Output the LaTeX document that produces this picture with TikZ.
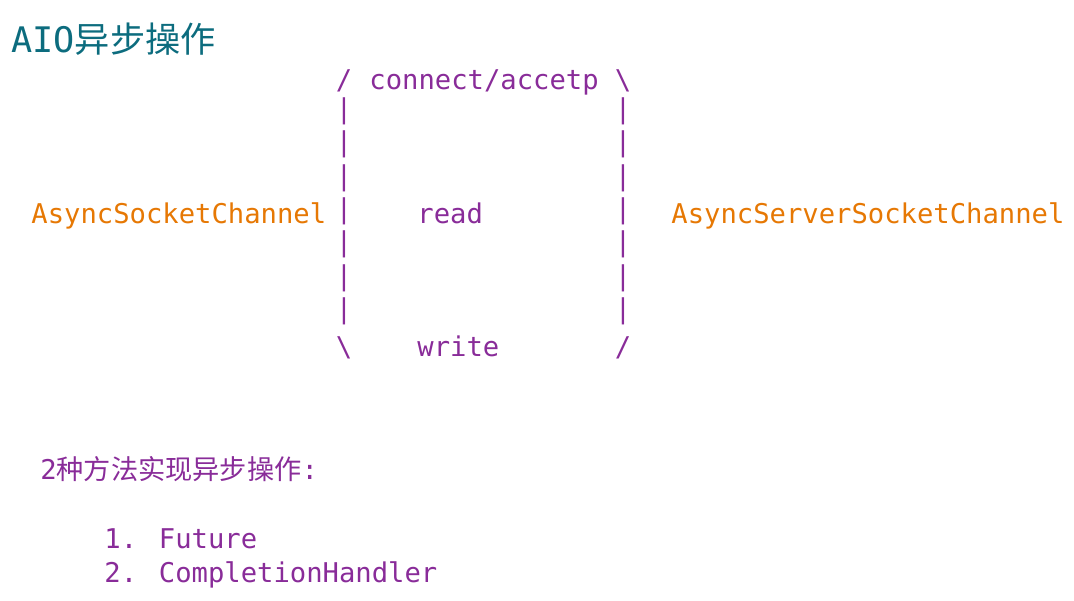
\documentclass[tikz,border=0pt]{standalone}
\usepackage{fontspec}
\setmainfont{DejaVu Sans Mono}
\newfontfamily\cjk{Noto Sans CJK SC}
\definecolor{aiopurple}{RGB}{137,44,153}
\definecolor{aioorange}{RGB}{230,120,4}
\definecolor{aioteal}{RGB}{12,108,126}
\tikzset{
  txt/.style={anchor=base west, inner sep=0pt, text=aiopurple, font=\fontsize{13.6}{16}\selectfont},
  chan/.style={txt, text=aioorange},
  bar/.style={txt, anchor=center},
  corner/.style={txt, anchor=base},
}
\begin{document}
\begin{tikzpicture}[x=0.5pt, y=-0.5pt]
		\useasboundingbox (0,0) rectangle (1074,600);
		\node[txt, text=aioteal, font=\fontsize{17.6}{20}\selectfont] (title) at (11,52) {AIO{\cjk 异步操作}};
		% the two channels and the box between them
		\node[chan] (client) at (31,223) {AsyncSocketChannel};
		\node[chan] (server) at (671,223) {AsyncServerSocketChannel};
		\node[corner] (tl) at (344,89) {/};
		\node[corner] (tr) at (623,89) {\textbackslash};
		\node[corner] (bl) at (344,356) {\textbackslash};
		\node[corner] (br) at (623,356) {/};
		\node[txt] (conn) at (369,89) {connect/accetp};
		\node[txt] (read) at (417,223) {read};
		\node[txt] (write) at (417,356) {write};
		\foreach \r in {1,...,7} {
			\node[bar] (lbar\r) at (344,78.2+33.3*\r) {|};
			\node[bar] (rbar\r) at (623,78.2+33.3*\r) {|};
		}
		% notes below
		\node[txt] (ways) at (40,479) {2{\cjk 种方法实现异步操作}:};
		\node[txt] (future) at (104,548) {1. Future};
		\node[txt] (handler) at (104,582) {2. CompletionHandler};
\end{tikzpicture}
\end{document}
